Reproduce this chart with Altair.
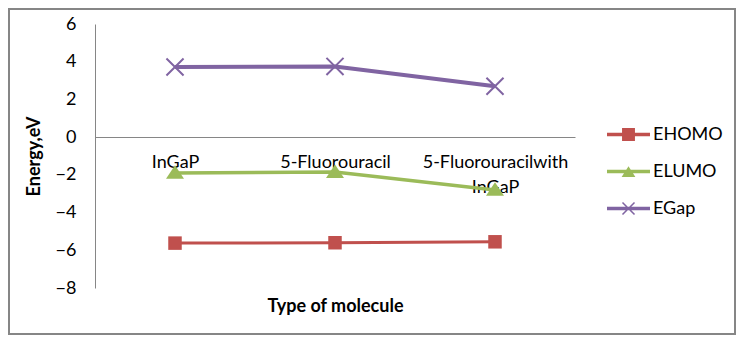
import altair as alt
import pandas as pd

categories = ["InGaP", "5-Fluorouracil", "5-Fluorouracilwith InGaP"]
series = ["EHOMO", "ELUMO", "EGap"]
ehomo = [-5.62, -5.6, -5.55]
elumo = [-1.9, -1.85, -2.8]
egap = [3.72, 3.75, 2.7]
colors = ["#C0504D", "#9BBB59", "#8064A2"]
y_ticks = [-8, -6, -4, -2, 0, 2, 4, 6]

rows = []
for s, vals in zip(series, [ehomo, elumo, egap]):
    for c, v in zip(categories, vals):
        rows.append({"molecule": c, "series": s, "energy": v})
df = pd.DataFrame(rows)

# marker shapes (filled polygons)
m_square = "M-0.75,-0.75H0.75V0.75H-0.75Z"
m_tri = "M-1,0.65L0,-0.85L1,0.65Z"
m_x = ("M-0.872,-1.028L1.028,0.872L0.872,1.028L-1.028,-0.872Z"
       "M-1.028,0.872L0.872,-1.028L1.028,-0.872L-0.872,1.028Z")
# legend shapes: line segment + marker
bar = "M-1,-0.08H1V0.08H-1Z"
l_square = bar + "M-0.3,-0.3H0.3V0.3H-0.3Z"
l_tri = bar + "M-0.32,0.25L0,-0.25L0.32,0.25Z"
l_x = bar + ("M-0.255,-0.305L0.305,0.255L0.255,0.305L-0.305,-0.255Z"
             "M-0.305,0.255L0.255,-0.305L0.305,-0.255L-0.255,0.305Z")

FONT = "Lato"
FS = 18

x_enc = alt.X(
    "molecule:N", sort=categories,
    scale=alt.Scale(padding=0.5),
    axis=alt.Axis(
        title="Type of molecule", offset=-151, domainColor="#868686",
        ticks=False, labelAngle=0, labelPadding=16, labelFontSize=FS,
        labelFont=FONT, labelColor="#000000", labelLineHeight=25,
        labelExpr="indexof(datum.label, 'with ') > 0 ? ['5-Fluorouracilwith', 'InGaP'] : datum.label",
        titleFont=FONT, titleFontSize=FS, titleFontWeight="bold",
        titleColor="#000000", titleY=174, titleBaseline="alphabetic",
    ),
)
y_enc = alt.Y(
    "energy:Q",
    scale=alt.Scale(domain=[-8, 6], nice=False, zero=False),
    axis=alt.Axis(
        values=y_ticks, title="Energy,eV", grid=False, ticks=False,
        domainColor="#868686", labelFontSize=FS, labelFont=FONT,
        labelColor="#000000", labelPadding=19,
        titleFont=FONT, titleFontSize=FS, titleFontWeight="bold",
        titleColor="#000000", titlePadding=12,
    ),
)
color_scale = alt.Scale(domain=series, range=colors)

lines = alt.Chart(df).mark_line().encode(
    x=x_enc, y=y_enc,
    color=alt.Color("series:N", scale=color_scale, legend=None),
    strokeWidth=alt.StrokeWidth("series:N", scale=alt.Scale(domain=series, range=[3, 4, 4]), legend=None),
)
points = alt.Chart(df).mark_point(filled=True, size=324, opacity=1).encode(
    x=x_enc, y=y_enc,
    color=alt.Color("series:N", scale=color_scale, legend=None),
    shape=alt.Shape("series:N", scale=alt.Scale(domain=series, range=[m_square, m_tri, m_x]), legend=None),
)
leg = alt.Legend(title=None, orient="none", legendX=512, legendY=89,
                 labelFontSize=FS, labelFont=FONT, labelColor="#000000",
                 rowPadding=6, labelOffset=3, symbolOpacity=1, symbolSize=1849,
                 symbolStrokeWidth=0)
legend_layer = alt.Chart(df).transform_filter("false").mark_point(filled=True, size=1849, opacity=1).encode(
    x=x_enc, y=y_enc,
    color=alt.Color("series:N", scale=color_scale, legend=leg),
    shape=alt.Shape("series:N", scale=alt.Scale(domain=series, range=[l_square, l_tri, l_x]), legend=leg),
)

frame = alt.Chart(pd.DataFrame({"k": [0]})).mark_rect(
    fill=None, stroke="#868686", strokeWidth=2
).encode(
    x=alt.value(-86), x2=alt.value(640), y=alt.value(-15), y2=alt.value(310)
)

chart = alt.layer(frame, lines, points, legend_layer).resolve_scale(
    shape="independent", color="independent", strokeWidth="independent"
).properties(
    width=480, height=264,
    padding={"left": 87, "top": 16, "right": 161, "bottom": 47},
    autosize=alt.AutoSizeParams(type="none"),
).configure_view(stroke=None)

chart.save("out.html", embed_options={"renderer": "svg", "actions": False})
